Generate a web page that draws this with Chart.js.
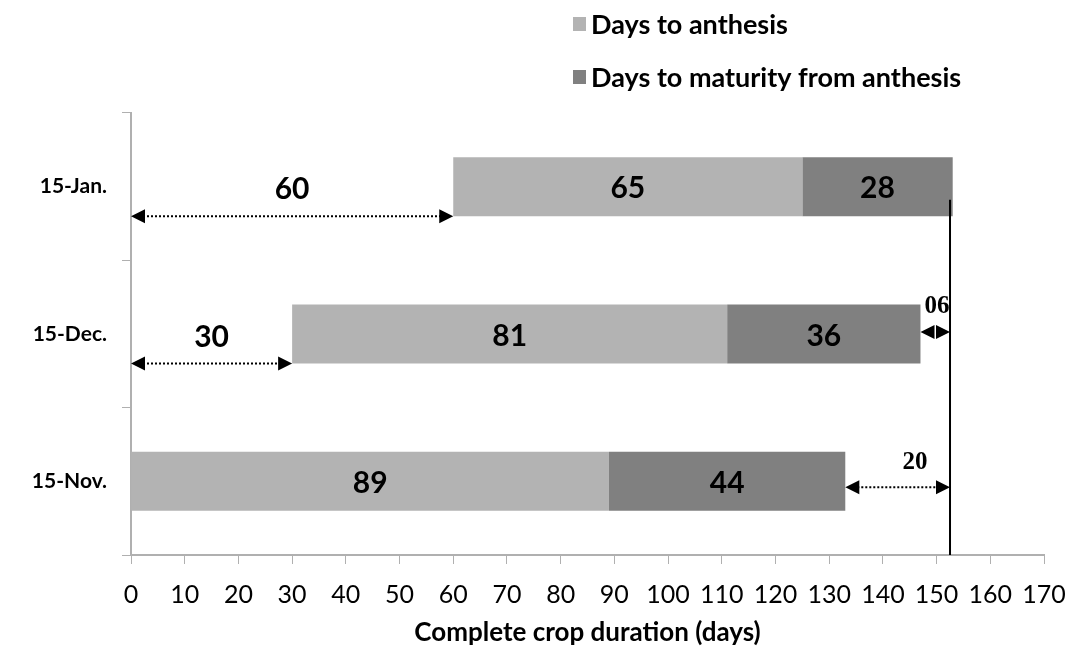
<!DOCTYPE html>
<html>
<head>
<meta charset="utf-8">
<script src="https://cdn.jsdelivr.net/npm/chart.js@4"></script>
<style>
    body { margin: 0; background: #fff; }
    #chart { display: block; }
</style>
</head>
<body>
<canvas id="chart" width="1073" height="652"></canvas>
<script>
const sowingDates = ["15-Jan.", "15-Dec.", "15-Nov."];
const sowingOffset = [60, 30, 0];          // days after 15-Nov.
const daysToAnthesis = [65, 81, 89];
const daysToMaturity = [28, 36, 44];
const gapLabels = ["", "06", "20"];        // days short of the longest duration
const refLine = 152.5;
const xTicks = [0, 10, 20, 30, 40, 50, 60, 70, 80, 90, 100, 110, 120, 130, 140, 150, 160, 170];

const colAnthesis = "#b3b3b3";
const colMaturity = "#808080";
const axisGrey = "#b0b0b0";

function arrowHead(ctx, x, y, dir) {
    ctx.beginPath();
    ctx.moveTo(x, y);
    ctx.lineTo(x - dir * 14, y - 7);
    ctx.lineTo(x - dir * 14, y + 7);
    ctx.closePath();
    ctx.fill();
}

function dottedArrow(ctx, x1, x2, y) {
    ctx.save();
    ctx.fillStyle = "#000";
    ctx.strokeStyle = "#000";
    ctx.lineWidth = 2;
    ctx.setLineDash([2, 2]);
    ctx.beginPath();
    ctx.moveTo(x1 + 12, y);
    ctx.lineTo(x2 - 12, y);
    ctx.stroke();
    ctx.setLineDash([]);
    arrowHead(ctx, x1, y, -1);
    arrowHead(ctx, x2, y, 1);
    ctx.restore();
}

const overlay = {
    id: "overlay",
    afterDatasetsDraw(chart) {
        const ctx = chart.ctx;
        const xs = chart.scales.x;
        const ys = chart.scales.y;

        // numbers inside bars
        ctx.save();
        ctx.font = "bold 30px Lato";
        ctx.fillStyle = "#000";
        ctx.textAlign = "center";
        ctx.textBaseline = "middle";
        [1, 2].forEach(di => {
            chart.getDatasetMeta(di).data.forEach((bar, i) => {
                const v = chart.data.datasets[di].data[i];
                ctx.fillText(v, (bar.x + bar.base) / 2, bar.y + 2);
            });
        });
        ctx.restore();

        // offset arrows (start of sowing)
        sowingOffset.forEach((off, i) => {
            if (!off) return;
            const bar = chart.getDatasetMeta(1).data[i];
            const x0 = xs.getPixelForValue(0);
            const x1 = xs.getPixelForValue(off);
            dottedArrow(ctx, x0, x1, bar.y + bar.height / 2);
            ctx.save();
            ctx.font = "bold 30px Lato";
            ctx.textAlign = "center";
            ctx.textBaseline = "middle";
            ctx.fillStyle = "#000";
            ctx.fillText(off, (x0 + x1) / 2, bar.y + 3);
            ctx.restore();
        });

        // reference line
        const xr = xs.getPixelForValue(refLine);
        const yTop = chart.getDatasetMeta(2).data[0].y + 13;
        ctx.save();
        ctx.strokeStyle = "#000";
        ctx.lineWidth = 2;
        ctx.beginPath();
        ctx.moveTo(xr, yTop);
        ctx.lineTo(xr, ys.bottom);
        ctx.stroke();
        ctx.restore();

        // gap arrows to the reference line
        gapLabels.forEach((lbl, i) => {
            if (!lbl) return;
            const bar = chart.getDatasetMeta(2).data[i];
            const total = sowingOffset[i] + daysToAnthesis[i] + daysToMaturity[i];
            const xe = xs.getPixelForValue(total);
            const y = i === 1 ? bar.y - 2 : bar.y + 6;
            if (xr - xe < 30) {
                ctx.save();
                ctx.fillStyle = "#000";
                arrowHead(ctx, xe, y, -1);
                arrowHead(ctx, xr, y, 1);
                ctx.restore();
            } else {
                dottedArrow(ctx, xe, xr, y);
            }
            ctx.save();
            ctx.font = "bold 25px 'Liberation Serif'";
            ctx.fillStyle = "#000";
            ctx.textAlign = "center";
            ctx.textBaseline = "middle";
            const tx = i === 1 ? xr - 13 : xr - 35;
            ctx.fillText(lbl, tx, y - 25);
            ctx.restore();
        });

        // legend
        ctx.save();
        ctx.font = "bold 27px Lato";
        ctx.textBaseline = "middle";
        [[colAnthesis, "Days to anthesis", 24],
         [colMaturity, "Days to maturity from anthesis", 77]].forEach(([c, t, y]) => {
            ctx.fillStyle = c;
            ctx.fillRect(573, y - 7, 13, 14);
            ctx.fillStyle = "#000";
            ctx.fillText(t, 591, y + 1);
        });
        ctx.restore();
    }
};

new Chart(document.getElementById("chart"), {
    type: "bar",
    data: {
        labels: sowingDates,
        datasets: [
            { label: "offset", data: sowingOffset, backgroundColor: "rgba(0,0,0,0)" },
            { label: "Days to anthesis", data: daysToAnthesis, backgroundColor: colAnthesis },
            { label: "Days to maturity from anthesis", data: daysToMaturity, backgroundColor: colMaturity }
        ]
    },
    options: {
        indexAxis: "y",
        responsive: false,
        animation: false,
        categoryPercentage: 0.4,
        barPercentage: 1.0,
        layout: { padding: { top: 113, right: 29, left: 0, bottom: 0 } },
        plugins: { legend: { display: false }, tooltip: { enabled: false } },
        scales: {
            x: {
                stacked: true,
                min: 0,
                max: 170,
                afterFit(scale) {
                    scale.height = 97;
                    scale.paddingLeft = 0;
                    scale.paddingRight = 0;
                },
                afterBuildTicks(scale) { scale.ticks = xTicks.map(v => ({ value: v })); },
                border: { color: axisGrey, width: 2 },
                grid: { drawOnChartArea: false, color: axisGrey, tickLength: 9, lineWidth: 1 },
                ticks: { font: { family: "Lato", size: 25 }, color: "#000", padding: 16, maxRotation: 0, autoSkip: false },
                title: { display: true, text: "Complete crop duration (days)", font: { family: "Lato", size: 26, weight: "bold" }, color: "#000", padding: { top: 0 } }
            },
            y: {
                stacked: true,
                afterFit(scale) { scale.width = 131; },
                border: { color: axisGrey, width: 2 },
                grid: { offset: true, drawOnChartArea: false, color: axisGrey, tickLength: 9 },
                ticks: { font: { family: "Lato", size: 21, weight: "bold" }, color: "#000", padding: 15 }
            }
        }
    },
    plugins: [overlay]
});
</script>
</body>
</html>
